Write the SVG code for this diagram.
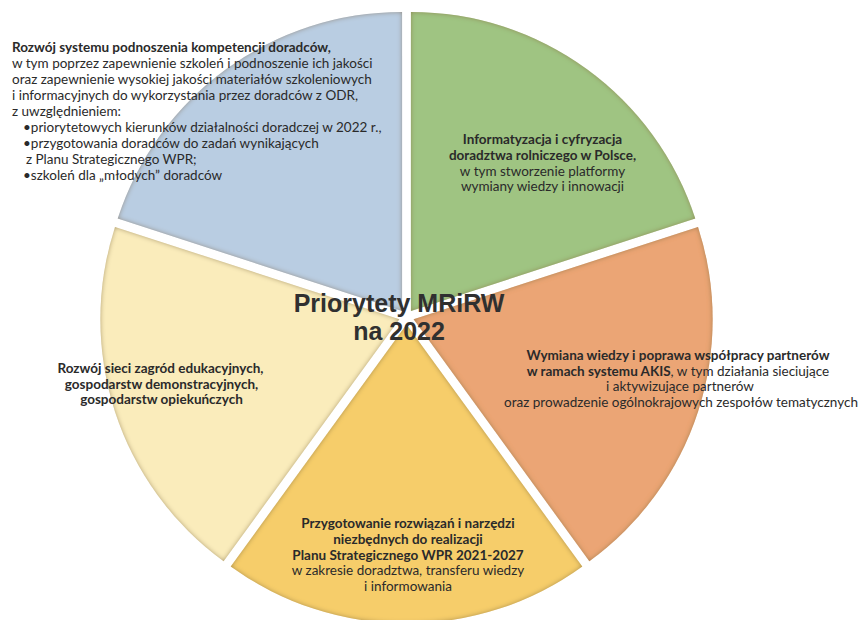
<svg xmlns="http://www.w3.org/2000/svg" width="862" height="620" viewBox="0 0 862 620">
<defs>
<filter id="glow" x="-5%" y="-5%" width="110%" height="110%">
<feFlood flood-color="#8c7440" flood-opacity="0.85"/>
<feComposite in2="SourceAlpha" operator="out"/>
<feGaussianBlur stdDeviation="2.6"/>
<feComposite in2="SourceAlpha" operator="in" result="inner"/>
<feMerge><feMergeNode in="SourceGraphic"/><feMergeNode in="inner"/></feMerge>
</filter>
<style>
.t{font-family:Lato,"Open Sans","Noto Sans",sans-serif;font-size:13.5px;fill:#2a2a2a}
.b{font-weight:bold}
.c{text-anchor:middle}
.slice{filter:url(#glow)}
.title{font-family:"Liberation Sans",Arial,sans-serif;font-weight:bold;font-size:25px;fill:#303030;text-anchor:middle}
</style>
</defs>
<rect width="862" height="620" fill="#ffffff"/>

<g id="node-green">
<path class="slice" fill="#9fc482" d="M410.91,310.93 L410.91,11.93 A299,299 0 0 1 695.28,218.53 Z"/>
<text class="t c" x="542.5"><tspan class="b" x="542.5" y="144">Informatyzacja i cyfryzacja</tspan><tspan class="b" x="542.5" y="160">doradztwa rolniczego w Polsce,</tspan><tspan x="542.5" y="176">w tym stworzenie platformy</tspan><tspan x="542.5" y="191">wymiany wiedzy i innowacji</tspan></text>
</g>

<g id="node-orange">
<path class="slice" fill="#eba574" d="M413.63,319.32 L698.00,226.92 A299,299 0 0 1 589.38,561.22 Z"/>
<text class="t c"><tspan class="b" x="678" y="360">Wymiana wiedzy i poprawa współpracy partnerów</tspan><tspan x="678" y="375.5"><tspan class="b">w ramach systemu AKIS</tspan>, w tym działania sieciujące</tspan><tspan x="680" y="391">i aktywizujące partnerów</tspan><tspan x="681" y="406.5">oraz prowadzenie ogólnokrajowych zespołów tematycznych</tspan></text>
</g>

<g id="node-yellow">
<path class="slice" fill="#f6cd6b" d="M406.5,324.5 L582.25,566.40 A299,299 0 0 1 230.75,566.40 Z"/>
<text class="t c"><tspan class="b" x="408" y="528">Przygotowanie rozwiązań i narzędzi</tspan><tspan class="b" x="408" y="544">niezbędnych do realizacji</tspan><tspan class="b" x="408" y="559.5">Planu Strategicznego WPR 2021-2027</tspan><tspan x="408" y="575">w zakresie doradztwa, transferu wiedzy</tspan><tspan x="408" y="590.5">i informowania</tspan></text>
</g>

<g id="node-lightyellow">
<path class="slice" fill="#faecbb" d="M399.37,319.32 L223.62,561.22 A299,299 0 0 1 115.00,226.92 Z"/>
<text class="t c b"><tspan x="160.5" y="373">Rozwój sieci zagród edukacyjnych,</tspan><tspan x="161.5" y="388.5">gospodarstw demonstracyjnych,</tspan><tspan x="161.5" y="403.5">gospodarstw opiekuńczych</tspan></text>
</g>

<g id="node-blue">
<path class="slice" fill="#b9cde2" d="M402.09,310.93 L117.72,218.53 A299,299 0 0 1 402.09,11.93 Z"/>
<text class="t"><tspan class="b" x="12" y="52">Rozwój systemu podnoszenia kompetencji doradców,</tspan><tspan x="12" y="68">w tym poprzez zapewnienie szkoleń i podnoszenie ich jakości</tspan><tspan x="12" y="84">oraz zapewnienie wysokiej jakości materiałów szkoleniowych</tspan><tspan x="12" y="100">i informacyjnych do wykorzystania przez doradców z ODR,</tspan><tspan x="12" y="116">z uwzględnieniem:</tspan><tspan x="23" y="132">•priorytetowych kierunków działalności doradczej w 2022 r.,</tspan><tspan x="23" y="148">•przygotowania doradców do zadań wynikających</tspan><tspan x="26" y="164">z Planu Strategicznego WPR;</tspan><tspan x="23" y="180">•szkoleń dla „młodych” doradców</tspan></text>
</g>

<g id="title">
<text class="title"><tspan x="399" y="312">Priorytety MRiRW</tspan><tspan x="399" y="340">na 2022</tspan></text>
</g>
</svg>
